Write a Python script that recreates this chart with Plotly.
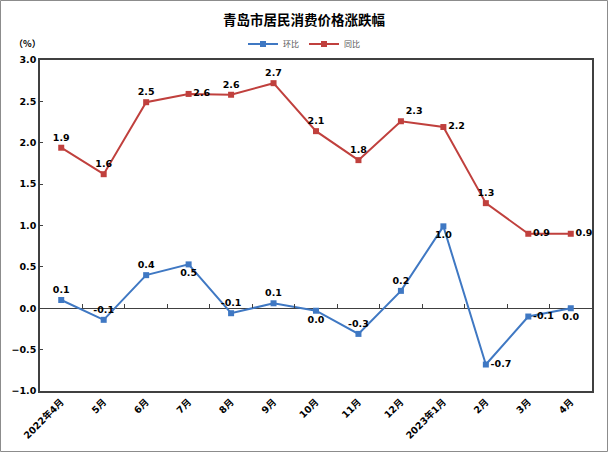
import plotly.graph_objects as go

categories = ["2022年4月", "5月", "6月", "7月", "8月", "9月", "10月", "11月", "12月",
              "2023年1月", "2月", "3月", "4月"]
mom_values = [0.10, -0.14, 0.40, 0.53, -0.06, 0.06, -0.03, -0.31, 0.21, 0.99, -0.68, -0.10, 0.0]
mom_labels = ["0.1", "-0.1", "0.4", "0.5", "-0.1", "0.1", "0.0", "-0.3", "0.2", "1.0", "-0.7", "-0.1", "0.0"]
yoy_values = [1.94, 1.62, 2.49, 2.59, 2.58, 2.72, 2.14, 1.79, 2.26, 2.19, 1.27, 0.90, 0.90]
yoy_labels = ["1.9", "1.6", "2.5", "2.6", "2.6", "2.7", "2.1", "1.8", "2.3", "2.2", "1.3", "0.9", "0.9"]
y_ticks = [-1.0, -0.5, 0.0, 0.5, 1.0, 1.5, 2.0, 2.5, 3.0]

mom_pos = ["top center", "top center", "top center", "bottom center", "top center", "top center",
           "bottom center", "top center", "top center", "bottom center", "middle right",
           "middle right", "bottom center"]
yoy_pos = ["top center", "top center", "top center", "middle right", "top center", "top center",
           "top center", "top center", "top right", "middle right", "top center",
           "middle right", "middle right"]

BLUE = "#3F78C3"
RED = "#C0403D"
AXIS = "#404040"
NUM_FONT = "DejaVu Sans, Noto Sans CJK SC, sans-serif"
CJK_FONT = "Noto Sans CJK SC, DejaVu Sans, sans-serif"

fig = go.Figure()
fig.add_trace(go.Scatter(
    x=categories, y=mom_values, name="环比", mode="lines+markers+text",
    line=dict(color=BLUE, width=2), marker=dict(symbol="square", size=6, color=BLUE),
    text=mom_labels, textposition=mom_pos,
    textfont=dict(family=NUM_FONT, size=9.5, color="black", weight="bold"),
    cliponaxis=False,
))
fig.add_trace(go.Scatter(
    x=categories, y=yoy_values, name="同比", mode="lines+markers+text",
    line=dict(color=RED, width=2), marker=dict(symbol="square", size=6, color=RED),
    text=yoy_labels, textposition=yoy_pos,
    textfont=dict(family=NUM_FONT, size=9.5, color="black", weight="bold"),
    cliponaxis=False,
))

# helper axis to draw the small tick marks on the zero line
fig.add_trace(go.Scatter(x=[0], y=[0], xaxis="x2", yaxis="y", mode="markers",
                         marker=dict(opacity=0), showlegend=False, hoverinfo="skip"))

W, H = 608, 452
ml, mr, mt, mb = 40, 16, 60, 61
pw, ph = W - ml - mr, H - mt - mb
n = len(categories)

fig.update_layout(
    width=W, height=H,
    margin=dict(l=ml, r=mr, t=mt, b=mb, autoexpand=False),
    paper_bgcolor="white", plot_bgcolor="white",
    title=dict(text="<b>青岛市居民消费价格涨跌幅</b>", x=(304 - ml) / pw, xref="paper", xanchor="center",
               y=1 - 20 / H, yanchor="middle", yref="container",
               font=dict(family=CJK_FONT, size=13.5, color="black")),
    legend=dict(orientation="h", x=(304 - ml) / pw, xanchor="center", y=1 + 16 / ph, yanchor="middle",
                font=dict(family=CJK_FONT, size=8, color="#555555"), itemwidth=30,
                tracegroupgap=0, bgcolor="rgba(0,0,0,0)"),
    xaxis=dict(type="category", range=[-0.5, n - 0.5], showgrid=False, showline=True,
               linecolor=AXIS, linewidth=1.5,
               mirror=True, ticks="", tickangle=-45, automargin=False,
               tickfont=dict(family=NUM_FONT, size=9.5, color="black", weight="bold"),
               zeroline=False),
    xaxis2=dict(overlaying="x", anchor="free", position=0.25, side="top", type="linear",
                range=[-0.5, n - 0.5], automargin=False,
                tickvals=[i + 0.5 for i in range(n - 1)],
                ticks="outside", ticklen=4, tickwidth=1, tickcolor=AXIS, showticklabels=False,
                showline=False, showgrid=False, zeroline=False),
    yaxis=dict(range=[-1, 3], tickvals=y_ticks, tickformat=".1f", showgrid=False,
               showline=True, linecolor=AXIS, linewidth=1.5, mirror=True,
               ticks="inside", ticklen=3, tickcolor=AXIS,
               zeroline=True, zerolinecolor=AXIS, zerolinewidth=1.2,
               automargin=False,
               tickfont=dict(family=NUM_FONT, size=9.5, color="black", weight="bold")),
    annotations=[dict(text="<b>（%）</b>", xref="paper", yref="paper", x=-13 / pw, y=1 + 17 / ph,
                      xanchor="center", yanchor="middle", showarrow=False,
                      font=dict(family=CJK_FONT, size=9, color="black"))],
    shapes=[dict(type="rect", xref="paper", yref="paper",
                 x0=-(ml - 0.5) / pw, x1=1 + (mr - 0.5) / pw,
                 y0=-(mb - 0.5) / ph, y1=1 + (mt - 0.5) / ph,
                 line=dict(color="#8C8C8C", width=1))],
)

fig.write_html("out.html", config={"displayModeBar": False},
               post_script="document.body.style.margin='0';document.body.style.overflow='hidden';")
